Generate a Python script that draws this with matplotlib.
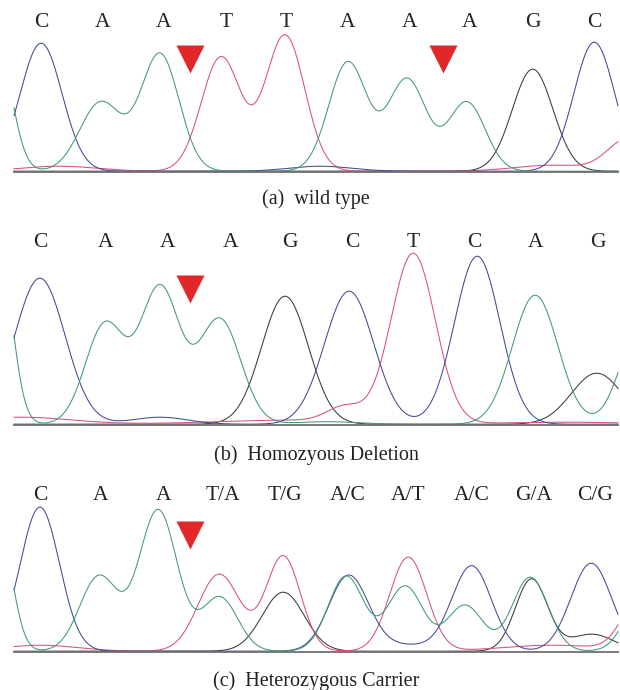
#!/usr/bin/env python3
"""
Sanger chromatograms around the deletion site:
(a) wild type, (b) homozygous deletion, (c) heterozygous carrier.
Each dye trace is drawn as the sum of its peaks read off the original figure.
"""

import numpy as np
import matplotlib
matplotlib.use('Agg')
import matplotlib.pyplot as plt

plt.rcParams['font.family'] = ['Liberation Serif', 'DejaVu Serif']

# Dye colours: A green, C blue, G black, T red
DYE_COLORS = {'A': '#3f9a76', 'C': '#424899', 'G': '#3a3a3a', 'T': '#d6517f'}
BASELINE_RFU = 8

# Peaks: (position in bases, height in RFU, sigma in bases)

# --- (a) wild type
wt_calls = ['C', 'A', 'A', 'T', 'T', 'A', 'A', 'A', 'G', 'C']
wt_call_pos = [0.01, 1.01, 1.99, 3.01, 3.99, 4.99, 5.99, 6.97, 8.00, 8.99]
wt_A = [(-0.69, 1200, 0.23), (0.98, 690, 0.34), (1.94, 1170, 0.31),
        (4.99, 1090, 0.31), (5.95, 920, 0.31), (6.92, 690, 0.30)]
wt_C = [(0.01, 1280, 0.34), (4.54, 50, 0.50), (8.99, 1290, 0.33)]
wt_G = [(7.99, 1020, 0.33)]
wt_T = [(0.30, 50, 0.60), (2.93, 1140, 0.32), (3.97, 1360, 0.32),
        (8.30, 60, 0.60), (9.54, 320, 0.33)]
wt_marks = [2.43, 6.53]
wt_mark_rfu = 1130

# --- (b) homozygous deletion
del_calls = ['C', 'A', 'A', 'A', 'G', 'C', 'T', 'C', 'A', 'G']
del_call_pos = [-0.01, 1.05, 2.07, 3.08, 4.05, 5.06, 6.05, 7.05, 8.04, 9.05]
del_A = [(-0.67, 1700, 0.21), (1.05, 1000, 0.32), (1.94, 1360, 0.32),
         (2.91, 1050, 0.34), (4.65, 25, 0.50), (8.03, 1290, 0.37),
         (9.73, 950, 0.32)]
del_C = [(-0.01, 1460, 0.41), (1.94, 70, 0.45), (5.01, 1330, 0.40),
         (7.09, 1680, 0.37)]
del_G = [(3.97, 1280, 0.38), (9.03, 510, 0.41)]
del_T = [(-0.30, 70, 0.80), (4.00, 40, 1.20), (4.94, 150, 0.29),
         (6.05, 1700, 0.36), (8.50, 20, 1.00)]
del_marks = [2.43]
del_mark_rfu = 1360

# --- (c) heterozygous carrier
het_calls = ['C', 'A', 'A', 'T/A', 'T/G', 'A/C', 'A/T', 'A/C', 'G/A', 'C/G']
het_call_pos = [-0.01, 0.98, 1.99, 2.96, 3.97, 4.98, 5.97, 7.00, 8.00, 9.00]
het_A = [(-0.67, 1200, 0.21), (0.95, 750, 0.31), (1.91, 1410, 0.31),
         (2.91, 540, 0.29), (4.96, 750, 0.29), (5.92, 650, 0.29),
         (6.89, 460, 0.29), (7.95, 740, 0.29), (9.81, 600, 0.29)]
het_C = [(-0.01, 1440, 0.32), (5.00, 750, 0.32), (5.90, 60, 0.50),
         (7.00, 850, 0.32), (8.94, 880, 0.33)]
het_G = [(3.94, 590, 0.34), (7.97, 720, 0.26), (8.95, 170, 0.36)]
het_T = [(0.00, 60, 0.60), (2.90, 770, 0.34), (3.94, 950, 0.28),
         (5.97, 940, 0.30), (8.30, 60, 0.80), (9.75, 550, 0.29)]
het_marks = [2.43]
het_mark_rfu = 1170

captions = ['(a)  wild type', '(b)  Homozyous Deletion', '(c)  Heterozygous Carrier']


def trace(x, peaks):
    y = np.full_like(x, BASELINE_RFU, dtype=float)
    for mu, h, s in peaks:
        y += h * np.exp(-0.5 * ((x - mu) / s) ** 2)
    return y


def main():
    W, H = 620, 690
    fig = plt.figure(figsize=(W / 100, H / 100), dpi=100)

    # layout in pixels: (baseline y, top y, caption pad in pt)
    boxes = [(172, 35, 12.5), (425, 255, 14.5), (652, 508, 14)]
    x_left, x_right = 14, 618
    xlim = (-0.43, 9.375)

    panels = [
        (wt_calls, wt_call_pos, {'A': wt_A, 'C': wt_C, 'G': wt_G, 'T': wt_T},
         wt_marks, wt_mark_rfu),
        (del_calls, del_call_pos, {'A': del_A, 'C': del_C, 'G': del_G, 'T': del_T},
         del_marks, del_mark_rfu),
        (het_calls, het_call_pos, {'A': het_A, 'C': het_C, 'G': het_G, 'T': het_T},
         het_marks, het_mark_rfu),
    ]

    x = np.linspace(xlim[0], xlim[1], 1200)
    for (base_y, top_y, lpad), (calls, call_pos, dyes, marks, mark_rfu), cap in zip(
            boxes, panels, captions):
        ax = fig.add_axes([x_left / W, 1 - base_y / H,
                           (x_right - x_left) / W, (base_y - top_y) / H])
        for dye in ['G', 'T', 'C', 'A']:
            ax.plot(x, trace(x, dyes[dye]), color=DYE_COLORS[dye], lw=0.75,
                    clip_on=False)
        ax.plot(marks, [mark_rfu] * len(marks), marker='v', ls='none',
                ms=20, color='#e0282a', mec='none')

        ax.set_xlim(*xlim)
        ax.set_ylim(0, (base_y - top_y) * 10)
        ax.set_yticks([])
        ax.xaxis.tick_top()
        ax.set_xticks(call_pos)
        ax.set_xticklabels(calls)
        ax.tick_params(axis='x', length=0, pad=2, labelsize=15.5,
                       labelcolor='#222222')
        for side in ['top', 'left', 'right']:
            ax.spines[side].set_visible(False)
        ax.spines['bottom'].set_color('#6f6f6f')
        ax.spines['bottom'].set_linewidth(1.3)
        ax.xaxis.set_label_position('bottom')
        ax.set_xlabel(cap, fontsize=14.5, labelpad=lpad, color='#222222')

    fig.savefig('out.png', dpi=100)


if __name__ == '__main__':
    main()
